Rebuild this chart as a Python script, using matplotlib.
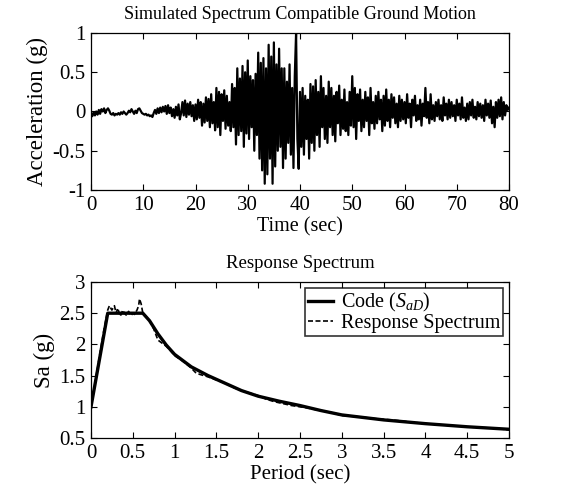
import numpy as np
import matplotlib
matplotlib.use("Agg")
import matplotlib.pyplot as plt

plt.rcParams['font.family'] = ['Liberation Serif', 'DejaVu Serif']
plt.rcParams['mathtext.fontset'] = 'custom'
plt.rcParams['mathtext.rm'] = 'Liberation Serif'
plt.rcParams['mathtext.it'] = 'Liberation Serif:italic'

# ---- Ground motion (0.25 s spacing) ----
dt = 0.25
accel = [
    -0.02, -0.06, -0.01, -0.05, 0.0, -0.04, 0.02, -0.03,
    0.03, 0.0, 0.04, -0.02, 0.02, 0.04, 0.01, -0.03,
    -0.04, -0.02, -0.05, -0.03, -0.04, -0.02, -0.04, -0.01,
    -0.03, 0.0, -0.02, -0.04, -0.02, 0.01, -0.01, 0.03,
    0.0, -0.03, 0.01, -0.02, 0.03, 0.04, 0.01, -0.02,
    -0.03, -0.04, -0.03, -0.05, -0.04, -0.06, -0.05, -0.07,
    -0.02, 0.02, -0.03, 0.04, -0.02, 0.05, -0.01, 0.06,
    0.0, 0.07, -0.03, 0.08, -0.02, 0.05, -0.06, 0.03,
    -0.08, 0.06, -0.05, 0.09, -0.10, -0.02, 0.12, -0.05,
    0.14, -0.07, 0.10, -0.04, 0.12, -0.06, 0.08, -0.12,
    0.09, -0.10, 0.15, -0.08, 0.12, -0.18, 0.10, -0.14,
    0.18, -0.12, 0.16, -0.20, 0.22, -0.15, 0.12, -0.24,
    0.30, -0.20, 0.25, -0.30, 0.22, -0.12, 0.27, -0.22,
    0.20, -0.18, 0.12, -0.25, 0.35, -0.20, 0.30, -0.42,
    0.55, -0.30, 0.42, -0.25, 0.58, -0.45, 0.50, -0.28,
    0.65, -0.35, 0.45, -0.20, 0.40, -0.50, 0.48, -0.30,
    0.75, -0.60, 0.62, -0.75, 0.68, -0.92, 0.55, -0.80,
    0.85, -0.60, 0.70, -0.92, 0.88, -0.70, 0.60, -0.50,
    0.80, -0.45, 0.55, -0.72, 0.55, -0.60, 0.38, -0.40,
    0.60, -0.55, 0.30, -0.72, 0.45, 1.00, -0.35, -0.73,
    0.25, -0.45, 0.30, -0.55, 0.20, -0.35, 0.15, -0.60,
    0.35, -0.40, 0.32, -0.50, 0.40, -0.30, 0.25, -0.45,
    0.45, -0.20, 0.30, -0.35, 0.20, -0.40, 0.38, -0.20,
    0.30, -0.30, 0.20, -0.38, 0.25, -0.15, 0.33, -0.30,
    0.15, -0.22, 0.28, -0.25, 0.12, -0.30, 0.25, -0.18,
    0.45, -0.20, 0.30, -0.35, 0.22, -0.12, 0.28, -0.25,
    0.15, -0.20, 0.25, -0.12, 0.18, -0.30, 0.30, -0.15,
    0.12, -0.22, 0.20, -0.15, 0.25, -0.10, 0.15, -0.25,
    0.20, -0.18, 0.28, -0.12, 0.15, -0.20, 0.22, -0.08,
    0.18, -0.15, 0.10, -0.20, 0.20, -0.12, 0.15, -0.10,
    0.12, -0.15, 0.22, -0.08, 0.10, -0.20, 0.15, -0.05,
    0.20, -0.12, 0.08, -0.10, 0.15, -0.18, 0.10, -0.06,
    0.30, -0.08, 0.12, -0.15, 0.22, -0.10, 0.08, -0.12,
    0.12, -0.06, 0.15, -0.10, 0.08, -0.12, 0.18, -0.05,
    0.10, -0.10, 0.15, -0.08, 0.12, -0.06, 0.08, -0.12,
    0.15, -0.05, 0.10, -0.10, 0.18, -0.08, 0.05, -0.12,
    0.10, -0.10, 0.12, -0.05, 0.15, -0.08, 0.06, -0.10,
    0.12, -0.06, 0.10, -0.08, 0.08, -0.12, 0.15, -0.05,
    0.10, -0.08, 0.14, -0.15, 0.06, -0.20, 0.12, -0.08,
    0.15, -0.06, 0.18, -0.10, 0.12, -0.05, 0.08, 0.02,
    0.05,
]
time = np.arange(len(accel)) * dt

# ---- Response spectrum ----
code_T = [0, 0.2, 0.62, 0.7, 0.8, 0.9, 1.0, 1.2, 1.4, 1.6, 1.8, 2.0,
          2.25, 2.5, 2.75, 3.0, 3.5, 4.0, 4.5, 5.0]
code_Sa = [1.0, 2.5, 2.5, 2.38, 2.17, 1.99, 1.84, 1.64, 1.50, 1.38, 1.26, 1.17,
           1.09, 1.02, 0.94, 0.87, 0.79, 0.73, 0.68, 0.64]

resp_T = [0, 0.05, 0.1, 0.15, 0.2, 0.22, 0.25, 0.28, 0.3, 0.32, 0.35, 0.38,
          0.4, 0.42, 0.45, 0.48, 0.5, 0.52, 0.55, 0.57, 0.58, 0.6, 0.62, 0.65,
          0.7, 0.75, 0.8, 0.85, 0.9, 0.95, 1.0, 1.1, 1.2, 1.25, 1.3, 1.4, 1.5,
          1.6, 1.7, 1.8, 1.9, 2.0, 2.1, 2.2, 2.3, 2.4, 2.5, 2.6, 2.7, 2.8, 2.9,
          3.0, 3.2, 3.4, 3.6, 3.8, 4.0, 4.2, 4.4, 4.6, 4.8, 5.0]
resp_Sa = [1.0, 1.4, 1.8, 2.2, 2.55, 2.62, 2.55, 2.62, 2.5, 2.58, 2.45, 2.55,
           2.5, 2.47, 2.53, 2.46, 2.5, 2.48, 2.55, 2.62, 2.73, 2.65, 2.5, 2.46,
           2.38, 2.25, 2.07, 2.02, 1.97, 1.9, 1.82, 1.73, 1.62, 1.55, 1.52, 1.48, 1.43,
           1.38, 1.31, 1.26, 1.22, 1.18, 1.12, 1.08, 1.05, 1.02, 1.0, 0.98, 0.95, 0.93, 0.9,
           0.86, 0.84, 0.81, 0.79, 0.76, 0.73, 0.71, 0.69, 0.67, 0.66, 0.63]

fig = plt.figure(figsize=(5.82, 4.90), dpi=100)
ax1 = fig.add_axes([91/582, 1-190/490, 418/582, 157/490])
ax2 = fig.add_axes([91/582, 1-438/490, 418/582, 156/490])

for ax in (ax1, ax2):
    ax.tick_params(direction='in', top=True, right=True, length=4, width=0.8,
                   labelsize=15, pad=4)
    for s in ax.spines.values():
        s.set_linewidth(0.9)

ax1.plot(time, accel, color='black', lw=1.6)
ax1.set_xlim(0, 80)
ax1.set_ylim(-1, 1)
ax1.set_xticks(np.arange(0, 81, 10))
ax1.set_yticks([-1, -0.5, 0, 0.5, 1])
ax1.set_yticklabels(['-1', '-0.5', '0', '0.5', '1'])
ax1.set_xlabel('Time (sec)', fontsize=14.5, labelpad=2)
ax1.set_ylabel('Acceleration (g)', fontsize=16.5, labelpad=3)
ax1.set_title('Simulated Spectrum Compatible Ground Motion', fontsize=13, pad=10)

ax2.plot(code_T, code_Sa, color='black', lw=2.4, label='Code ($S_{aD}$)')
ax2.plot(resp_T, resp_Sa, color='black', lw=1.2, ls=(0, (3, 1.5)),
         label='Response Spectrum')
ax2.set_xlim(0, 5)
ax2.set_ylim(0.5, 3)
ax2.set_xticks(np.arange(0, 5.01, 0.5))
ax2.set_xticklabels(['0', '0.5', '1', '1.5', '2', '2.5', '3', '3.5', '4', '4.5', '5'])
ax2.set_yticks([0.5, 1, 1.5, 2, 2.5, 3])
ax2.set_yticklabels(['0.5', '1', '1.5', '2', '2.5', '3'])
ax2.set_xlabel('Period (sec)', fontsize=15, labelpad=2)
ax2.set_ylabel('Sa (g)', fontsize=16.5, labelpad=3)
ax2.set_title('Response Spectrum', fontsize=13.5, pad=10)
leg = ax2.legend(loc='upper right', fontsize=14.5, frameon=True, fancybox=False,
                 edgecolor='black', handlelength=1.2, handletextpad=0.4,
                 borderpad=0.15, labelspacing=0.0, borderaxespad=0.3)
leg.get_frame().set_linewidth(1.2)

fig.savefig('out.png', dpi=100)
